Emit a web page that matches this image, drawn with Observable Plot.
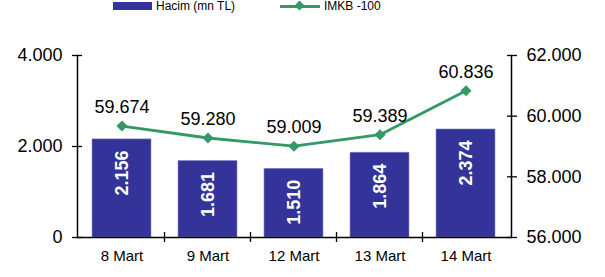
<!DOCTYPE html>
<html>
<head>
<meta charset="utf-8">
<script src="https://cdn.jsdelivr.net/npm/d3@7"></script>
<script src="https://cdn.jsdelivr.net/npm/@observablehq/plot@0.6"></script>
<style>
  html, body { margin: 0; padding: 0; background: #fff; }
  #wrap { position: relative; width: 605px; height: 277px; font-family: "Liberation Sans", Arial, sans-serif; }
  #legend { position: absolute; left: 0; top: 0; width: 605px; height: 14px; font-size: 12px; color: #000; }
  .item { position: absolute; top: 0; display: flex; align-items: center; height: 12px; }
  .sw-bar { width: 39px; height: 8px; background: #333399; margin-right: 4px; }
  .sw-line { position: relative; width: 40px; height: 3px; background: #339966; margin-right: 4px; }
  .sw-line::after { content: ""; position: absolute; left: 16px; top: -3px; width: 7px; height: 7px; background: #339966; transform: rotate(45deg); }
</style>
</head>
<body>
<div id="wrap">
  <div id="legend"></div>
  <div id="chart"></div>
</div>
<script>
const categories = ["8 Mart", "9 Mart", "12 Mart", "13 Mart", "14 Mart"];
const hacim = [2156, 1681, 1510, 1864, 2374];
const imkb = [59674, 59280, 59009, 59389, 60836];
const leftTicks = [0, 2000, 4000];
const rightTicks = [56000, 58000, 60000, 62000];
const seriesNames = ["Hacim (mn TL)", "IMKB -100"];

const barColor = "#333399";
const lineColor = "#339966";

const leftDomain = [0, 4000];
const rightDomain = [56000, 62000];
const toLeft = v => leftDomain[0] + (v - rightDomain[0]) * (leftDomain[1] - leftDomain[0]) / (rightDomain[1] - rightDomain[0]);
const fromLeft = v => rightDomain[0] + (v - leftDomain[0]) * (rightDomain[1] - rightDomain[0]) / (leftDomain[1] - leftDomain[0]);

const fmt = v => d3.format(",.0f")(Math.round(v)).replace(/,/g, ".");

const data = categories.map((c, i) => ({cat: c, hacim: hacim[i], imkb: imkb[i], imkbL: toLeft(imkb[i])}));

const legend = document.getElementById("legend");
legend.innerHTML = `
  <div class="item" style="left:113px"><div class="sw-bar"></div><span>${seriesNames[0]}</span></div>
  <div class="item" style="left:280px"><div class="sw-line"></div><span>${seriesNames[1]}</span></div>`;

// Category boundary ticks (between bands) drawn with the x scale
function boundaryTicks(index, scales) {
  const x = scales.x;
  const sx = (scales.scales && scales.scales.x) || {};
  const bw = typeof x.bandwidth === "function" ? x.bandwidth() : sx.bandwidth;
  const step = typeof x.step === "function" ? x.step() : sx.step;
  const y0 = scales.y(0);
  const g = d3.create("svg:g");
  categories.slice(1).forEach(c => {
    const bx = x(c) - (step - bw) / 2;
    g.append("line").attr("x1", bx).attr("x2", bx).attr("y1", y0 - 5).attr("y2", y0 + 5)
      .attr("stroke", "#000").attr("stroke-width", 1.3);
  });
  return g.node();
}

const chart = Plot.plot({
  width: 605,
  height: 277,
  marginLeft: 77,
  marginRight: 94,
  marginTop: 55,
  marginBottom: 40,
  style: {fontFamily: "Liberation Sans, Arial, sans-serif", background: "transparent"},
  x: {domain: categories, paddingInner: 0.31, paddingOuter: 0.155, label: null},
  y: {domain: leftDomain, label: null},
  marks: [
    Plot.barY(data, {x: "cat", y: "hacim", fill: barColor, stroke: "#8c8cc8", strokeWidth: 0.6}),
    Plot.text(data, {x: "cat", y: "hacim", text: d => fmt(d.hacim), rotate: -90, textAnchor: "end", dy: 11, fill: "#fff", fontWeight: "bold", fontSize: 18}),
    Plot.ruleY([0], {stroke: "#000", strokeWidth: 1.5}),
    Plot.frame({anchor: "left", stroke: "#000", strokeWidth: 1.5}),
    Plot.frame({anchor: "right", stroke: "#000", strokeWidth: 1.5}),
    Plot.axisY({ticks: leftTicks, tickSize: 10, dx: 5, tickFormat: () => "", stroke: "#000", strokeWidth: 1.3}),
    Plot.axisY({ticks: leftTicks, tickSize: 0, tickPadding: 15, tickFormat: fmt, fontSize: 18, fill: "#000"}),
    Plot.axisY({anchor: "right", ticks: rightTicks.map(toLeft), tickSize: 10, dx: -5, tickFormat: () => "", stroke: "#000", strokeWidth: 1.3}),
    Plot.axisY({anchor: "right", ticks: rightTicks.map(toLeft), tickSize: 0, tickPadding: 15, tickFormat: v => fmt(fromLeft(v)), fontSize: 18, fill: "#000"}),
    Plot.axisX({tickSize: 0, tickPadding: 13, fontSize: 15, fill: "#000"}),
    boundaryTicks,
    Plot.line(data, {x: "cat", y: "imkbL", stroke: lineColor, strokeWidth: 2.8}),
    Plot.dot(data, {x: "cat", y: "imkbL", symbol: "diamond2", fill: lineColor, stroke: "none", r: 5}),
    Plot.text(data, {x: "cat", y: "imkbL", text: d => fmt(d.imkb), lineAnchor: "bottom", dy: -13, fontSize: 18, fill: "#000"})
  ]
});
document.getElementById("chart").appendChild(chart);
</script>
</body>
</html>
